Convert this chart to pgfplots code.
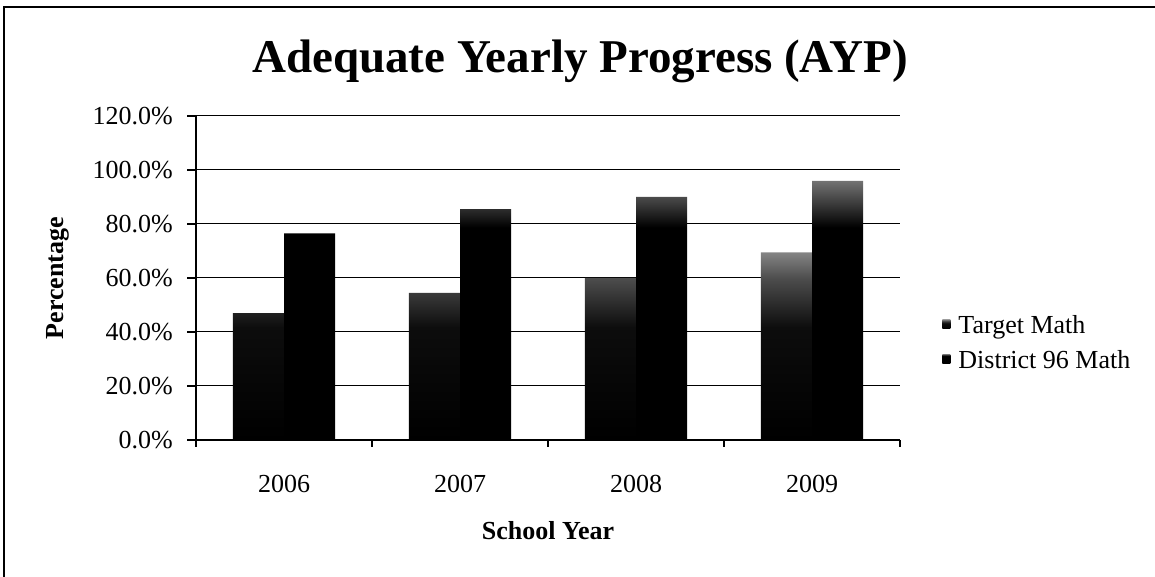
\documentclass[border=0pt]{standalone}
\usepackage{fontspec}
\setmainfont{Liberation Serif}
\usepackage{pgfplots}
\pgfplotsset{compat=1.18}
\pgfdeclareverticalshading{targetshade}{100bp}{color(0bp)=(black); color(25bp)=(black); color(55bp)=(black!95); color(68bp)=(black!70); color(75bp)=(black!48); color(100bp)=(black!48)}
\pgfdeclareverticalshading{districtshade}{100bp}{color(0bp)=(black); color(25bp)=(black); color(66bp)=(black); color(75bp)=(black!55); color(100bp)=(black!55)}
\begin{document}
\begin{tikzpicture}[x=1pt,y=1pt]
\useasboundingbox (0,0) rectangle (1155,577);
\draw[line width=1.2pt] (4,0) -- (4,570) -- (1155,570);
\begin{axis}[
  at={(196pt,137pt)}, anchor=south west,
  scale only axis, width=704pt, height=324pt,
  xmin=-0.5, xmax=3.5, ymin=0, ymax=120,
  axis lines=left,
  axis line style={-, line width=1.5pt, black},
  ytick={0,20,...,120},
  ymajorgrids, major grid style={black, line width=1.0pt},
  tick align=outside, major tick length=9pt,
  ytick style={black, line width=1.2pt},
  xtick={0,1,2,3}, xticklabels={2006,2007,2008,2009},
  xtick style={draw=none},
  extra x ticks={-0.5,0.5,1.5,2.5,3.5}, extra x tick labels={},
  extra x tick style={xtick style={draw=black, line width=1.2pt}, major tick length=7pt},
  /pgf/number format/assume math mode=true,
  tick label style={font=\fontsize{26}{31}\selectfont},
  yticklabel={\pgfmathprintnumber[fixed,fixed zerofill,precision=1]{\tick}\%},
  yticklabel style={anchor=east, inner sep=0pt, xshift=-14pt},
  xticklabel style={anchor=base, inner sep=0pt, yshift=-44pt},
  ybar=0pt, bar width=0.29,
  legend style={at={(1.06,0.30)}, anchor=west, draw=none, fill=none,
    font=\fontsize{26}{31}\selectfont, row sep=11pt, inner sep=0pt},
  legend cell align=left,
  legend image code/.code={\path[#1,draw=none] (0pt,-3pt) rectangle (8pt,6pt); \path (14pt,0pt);},
]
\addplot[draw=none, shade, shading=targetshade]
  coordinates {(0,47) (1,54.5) (2,60) (3,69.5)};
\addplot[draw=none, shade, shading=districtshade]
  coordinates {(0,76.5) (1,85.5) (2,90) (3,96)};
\legend{Target Math, District 96 Math}
\end{axis}
\node[anchor=base, font=\fontsize{47}{56}\selectfont\bfseries] at (580,504) {Adequate Yearly Progress (AYP)};
\node[anchor=base, font=\fontsize{26}{31}\selectfont\bfseries] at (548,37) {School Year};
\node[rotate=90, font=\fontsize{26}{31}\selectfont\bfseries] at (58,299) {Percentage};
\end{tikzpicture}
\end{document}
